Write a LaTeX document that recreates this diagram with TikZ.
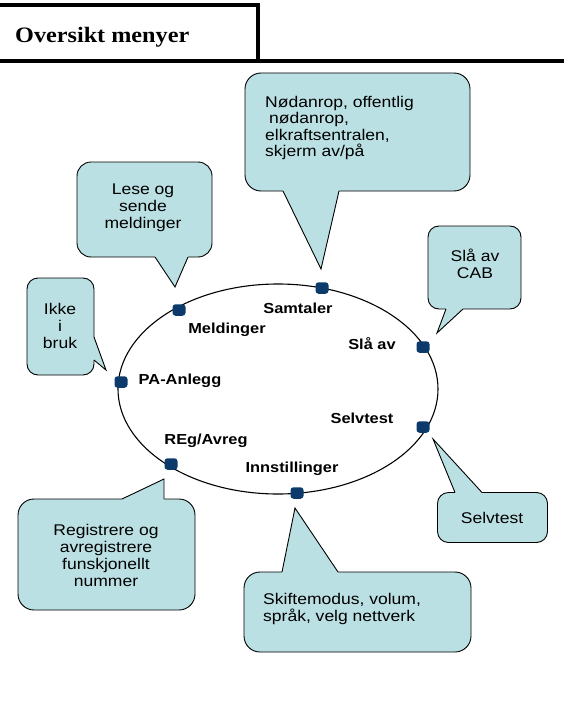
\documentclass[tikz,border=0pt]{standalone}
\usepackage{fontspec}
\setmainfont{Liberation Sans}[FakeStretch=1.13]
\newfontfamily\hdrfont{Liberation Serif}[FakeStretch=1.1]
\usetikzlibrary{calc,shapes.geometric}
\definecolor{cfill}{HTML}{BBE0E3}
\definecolor{dotc}{HTML}{0B3A6B}
\begin{document}
\begin{tikzpicture}[x=1pt,y=-1pt,
  box/.style={draw=black, fill=cfill, line width=0.9pt, rounded corners=14pt, inner sep=0pt},
  tailfill/.style={fill=cfill},
  tailline/.style={draw=black, line width=0.9pt, line join=miter},
  ctext/.style={font=\fontsize{15.5}{17}\selectfont, inner sep=0pt},
  lbl/.style={font=\bfseries\fontsize{14.5}{16}\selectfont, inner sep=0pt},
  dotn/.style={fill=dotc, rounded corners=3pt, minimum width=13pt, minimum height=11.5pt, inner sep=0pt, draw=none}]
\useasboundingbox (0,0) rectangle (564,706);

% header
\draw[line width=3.5pt, line join=miter] (0,5) -- (258,5) -- (258,61);
\draw[line width=4pt] (0,61) -- (564,61);
\node[anchor=base west, inner sep=0pt, font=\hdrfont\bfseries\fontsize{22}{24}\selectfont] (hdr) at (15,43) {Oversikt menyer};

% ellipse
\node[draw=black, line width=1.1pt, ellipse, minimum width=320pt, minimum height=210pt, inner sep=0pt] (ell) at (278,389) {};

% dots
\node[dotn] (dS) at (322,288) {};
\node[dotn] (dM) at (179,310) {};
\node[dotn] (dP) at (121,382) {};
\node[dotn] (dR) at (171,464) {};
\node[dotn] (dI) at (297,493) {};
\node[dotn] (dT) at (423,427) {};
\node[dotn] (dA) at (423,347) {};

% labels
\node[lbl] (lS) at (298,308) {Samtaler};
\node[lbl] (lM) at (227,330) {Meldinger};
\node[lbl] (lP) at (180,381) {PA-Anlegg};
\node[lbl] (lA) at (372,344) {Slå av};
\node[lbl] (lT) at (362,418) {Selvtest};
\node[lbl] (lR) at (206,441) {REg/Avreg};
\node[lbl] (lI) at (292,469) {Innstillinger};

% tips
\coordinate (tS) at (321,269);
\coordinate (tM) at (175,287);
\coordinate (tP) at (106,370);
\coordinate (tA) at (437,333);
\coordinate (tT) at (433,439);
\coordinate (tR) at (164,479);
\coordinate (tI) at (295,508);

% Samtaler callout
\node[box, rounded corners=16pt, minimum width=225pt, minimum height=118pt] (cS) at (357.5,132) {};
\fill[cfill] (283,191) -- (tS) -- (339,191) -- (339,187) -- (283,187) -- cycle;
\draw[tailline] (283,191) -- (tS) -- (339,191);
\node[ctext, anchor=west, align=left, font=\fontsize{15.5}{16.5}\selectfont] (xS) at (265,128)
  {Nødanrop, offentlig\\\hspace*{4pt}nødanrop,\\elkraftsentralen,\\skjerm av/på};

% Meldinger callout
\node[box, minimum width=135pt, minimum height=95pt] (cM) at (144.5,209.5) {};
\fill[cfill] (155,257) -- (tM) -- (188,257) -- (188,253) -- (155,253) -- cycle;
\draw[tailline] (155,257) -- (tM) -- (188,257);
\node[ctext, align=center] (xM) at (143,208) {Lese og\\sende\\meldinger};

% PA callout
\node[box, rounded corners=11pt, minimum width=67pt, minimum height=97pt] (cP) at (60.5,326.5) {};
\fill[cfill] (94,337) -- (tP) -- (94,360) -- (90,360) -- (90,337) -- cycle;
\draw[tailline] (94,337) -- (tP) -- (94,360);
\node[ctext, align=center] (xP) at (60,326) {Ikke\\i\\bruk};

% Slå av callout
\node[box, rounded corners=11pt, minimum width=93pt, minimum height=83pt] (cA) at (474.5,267.5) {};
\fill[cfill] (446,309) -- (tA) -- (463,309) -- (463,305) -- (446,305) -- cycle;
\draw[tailline] (446,309) -- (tA) -- (463,309);
\node[ctext, align=center] (xA) at (475,264) {Slå av\\CAB};

% Selvtest callout
\node[box, rounded corners=11pt, minimum width=110pt, minimum height=50pt] (cT) at (492.5,517.5) {};
\fill[cfill] (455,492.5) -- (tT) -- (482,492.5) -- (482,497) -- (455,497) -- cycle;
\draw[tailline] (455,492.5) -- (tT) -- (482,492.5);
\node[ctext] (xT) at (492,518) {Selvtest};

% REg callout
\node[box, rounded corners=16pt, minimum width=177pt, minimum height=111pt] (cR) at (106.5,554.5) {};
\fill[cfill] (122,499) -- (tR) -- (164,499) -- (164,503) -- (122,503) -- cycle;
\draw[tailline] (122,499) -- (tR) -- (164,499);
\node[ctext, align=center] (xR) at (106,555) {Registrere og\\avregistrere\\funskjonellt\\nummer};

% Innstillinger callout
\node[box, rounded corners=16pt, minimum width=227pt, minimum height=80pt] (cI) at (357.5,612) {};
\fill[cfill] (282,572) -- (tI) -- (338,572) -- (338,576) -- (282,576) -- cycle;
\draw[tailline] (282,572) -- (tI) -- (338,572);
\node[ctext, anchor=west, align=left] (xI) at (263,609) {Skiftemodus, volum,\\språk, velg nettverk};
\end{tikzpicture}
\end{document}
